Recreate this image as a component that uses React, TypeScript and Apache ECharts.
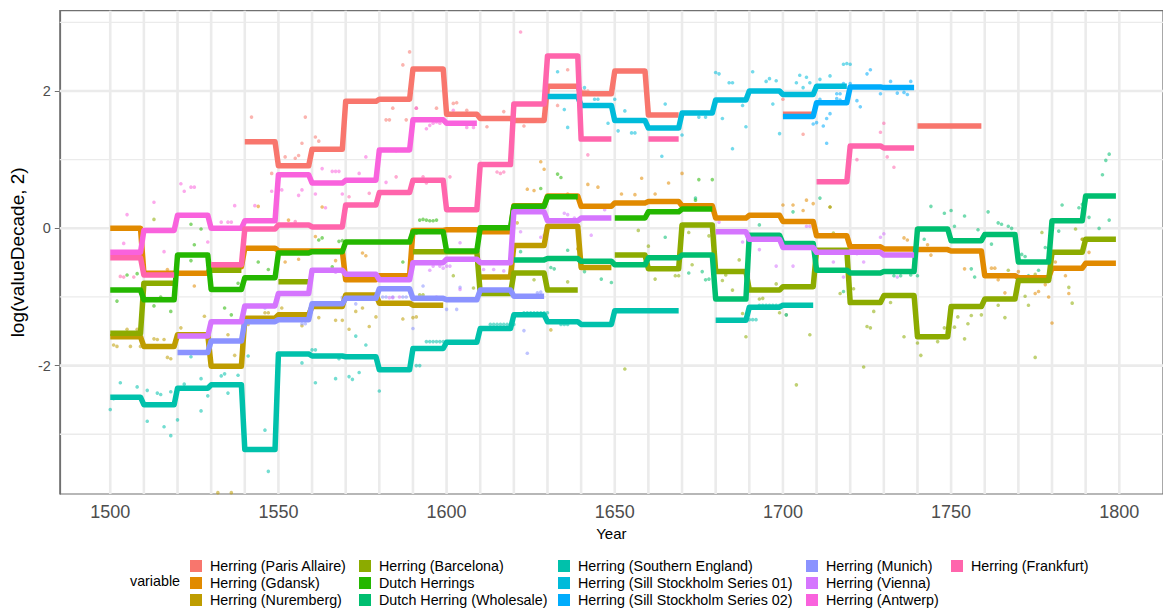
import React, { useEffect, useRef } from "react";
import * as echarts from "echarts";

// ---------- data ----------
const decades = [1500, 1510, 1520, 1530, 1540, 1550, 1560, 1570, 1580, 1590, 1600, 1610, 1620, 1630, 1640, 1650, 1660, 1670, 1680, 1690, 1700, 1710, 1720, 1730, 1740, 1750, 1760, 1770, 1780, 1790];

const seriesNames = [
  "Herring (Paris Allaire)", "Herring (Gdansk)", "Herring (Nuremberg)",
  "Herring (Barcelona)", "Dutch Herrings", "Dutch Herring (Wholesale)",
  "Herring (Southern England)", "Herring (Sill Stockholm Series 01)", "Herring (Sill Stockholm Series 02)",
  "Herring (Munich)", "Herring (Vienna)", "Herring (Antwerp)", "Herring (Frankfurt)",
];
const seriesColors = ["#F8766D", "#E18A00", "#BE9C00", "#8CAB00", "#24B700", "#00BE70", "#00C1AB", "#00BBDA", "#00ACFC", "#8B93FF", "#D575FE", "#F962DD", "#FF65AC"];

const _ = null;
// decade means (log2), one per decade 1500..1790
const parisDecade = [_, _, _, _, 1.26, 0.91, 1.15, 1.85, 1.88, 2.32, 1.66, 1.60, 1.57, 2.07, 1.96, 2.29, 1.65, _, _, _, 1.66, _, _, _, 1.49, 1.49, _, _, _, _];
const gdanskDecade = [0.0, -0.655, -0.655, -0.56, -0.29, -0.33, -0.33, -0.75, -0.69, -0.03, -0.02, -0.05, 0.33, 0.47, 0.32, 0.37, 0.39, 0.33, 0.15, 0.19, 0.10, -0.11, -0.27, -0.30, -0.31, -0.33, -0.69, -0.72, -0.58, -0.51];
const nurembergDecade = [-1.58, -1.72, -1.55, -2.01, -1.31, -1.26, -1.14, -0.97, -1.09, -1.12, _, -0.71, -0.25, 0.03, -0.57, _, _, _, _, _, _, _, _, _, _, _, _, _, _, _];
const barcelonaDecade = [-1.53, -0.80, _, -0.61, _, -0.78, _, _, _, -0.34, -0.34, -0.95, -0.65, -0.90, _, -0.39, -0.59, 0.05, -0.63, -0.90, -0.85, -0.32, -1.08, -0.98, -1.58, -1.14, -1.03, -0.76, -0.35, -0.16];
const dutchDecade = [-0.90, -1.04, -0.39, -0.89, -0.72, -0.36, -0.34, -0.20, -0.20, -0.05, -0.33, 0.01, 0.32, 0.46, _, 0.15, 0.24, 0.28, _, _, _, _, _, _, _, _, _, _, _, _];
const wholesaleDecade = [_, _, _, _, _, _, _, _, _, _, _, _, -0.46, -0.44, -0.48, -0.53, -0.43, -0.39, -1.03, -0.10, -0.22, -0.61, -0.65, -0.63, -0.01, -0.18, -0.09, -0.49, 0.11, 0.47];
const southDecade = [-2.46, -2.57, -2.33, -2.28, -3.22, -1.83, -1.86, -1.87, -2.06, -1.75, -1.66, -1.46, -1.26, -1.36, -1.40, -1.20, -1.20, _, -1.34, -1.15, -1.12, _, _, _, _, _, _, _, _, _];
const sill01Decade = [_, _, _, _, _, _, _, _, _, _, _, _, _, 1.92, 1.79, 1.57, 1.46, 1.68, 1.87, 2.00, 1.95, 2.07, _, _, _, _, _, _, _, _];
const sill02Decade = [_, _, _, _, _, _, _, _, _, _, _, _, _, _, _, _, _, _, _, _, 1.63, 1.83, 2.06, 2.05, _, _, _, _, _, _];
const munichDecade = [_, _, -1.81, -1.64, -1.36, -1.33, -1.10, -1.02, -0.88, -1.02, -1.04, -0.90, -0.99, _, _, _, _, _, _, _, _, _, _, _, _, _, _, _, _, _];
const viennaDecade = [_, _, -1.57, -1.36, -1.13, -0.95, -0.61, -0.67, -0.75, -0.50, -0.45, -0.50, 0.24, 0.11, 0.15, _, _, _, -0.05, -0.16, -0.28, -0.35, -0.35, -0.39, _, _, _, _, _, _];
const antwerpDecade = [-0.35, -0.03, 0.19, 0.0, 0.11, 0.78, 0.66, 0.70, 1.14, 1.58, 1.53, _, _, _, _, _, _, _, _, _, _, _, _, _, _, _, _, _, _, _];
const frankfurtDecade = [-0.43, -0.68, _, -0.53, -0.01, 0.05, 0.02, 0.34, 0.52, 0.70, 0.27, 0.93, 1.81, 2.51, 1.30, _, 1.30, _, _, _, _, 0.68, 1.20, 1.17, _, _, _, _, _, _];

// yearly observations [year, log2 value]
const parisPts = [[1542, 1.62], [1548, 0.80], [1552, 1.04], [1555, 1.02], [1556, 1.06], [1557, 1.24], [1558, 1.62], [1561, 1.33], [1562, 1.27], [1582, 1.58], [1583, 1.58], [1584, 1.75], [1587, 2.38], [1588, 1.58], [1589, 2.57], [1591, 1.75], [1597, 1.75], [1602, 1.82], [1603, 1.83], [1606, 1.72], [1612, 1.48], [1617, 1.70], [1623, 1.49], [1633, 1.79], [1636, 2.31], [1641, 2.0], [1642, 2.0], [1700, 1.88], [1706, 1.37]];
const gdanskPts = [[1517, -0.60], [1525, -0.84], [1544, 0.32], [1552, -0.49], [1553, 0.12], [1556, -0.45], [1561, -0.12], [1563, 0.31], [1567, -0.47], [1569, -0.62], [1575, -0.36], [1576, -0.40], [1624, 0.57], [1626, 0.55], [1628, 0.97], [1629, 0.86], [1636, 0.50], [1642, 0.64], [1645, 0.60], [1652, 0.50], [1656, 0.49], [1658, 0.73], [1662, 0.50], [1666, 0.66], [1670, 0.80], [1700, 0.34], [1703, 0.34], [1706, 0.26], [1707, 0.41], [1709, 0.36], [1714, 0.31], [1736, -0.14], [1737, -0.17], [1743, -0.24], [1744, -0.39], [1754, -0.59], [1762, -0.58], [1763, -0.58], [1764, -0.75], [1766, -0.94], [1770, -0.63], [1775, -0.95], [1776, -0.92], [1778, -0.82], [1779, -1.0], [1780, -1.38], [1781, -0.49], [1784, -0.69], [1785, -0.95], [1789, -0.16], [1791, -0.35]];
const nurembergPts = [[1501, -1.70], [1502, -1.72], [1505, -1.47], [1506, -1.72], [1508, -1.47], [1509, -1.72], [1513, -1.61], [1514, -1.62], [1516, -1.62], [1517, -1.88], [1518, -1.90], [1521, -1.45], [1528, -1.28], [1532, -3.85], [1536, -3.85], [1535, -1.55], [1537, -1.85], [1541, -1.40], [1546, -1.23], [1547, -1.23], [1551, -1.16], [1557, -1.42], [1562, -1.30], [1567, -1.34], [1569, -1.34], [1571, -1.47], [1573, -1.21], [1575, -1.16], [1577, -1.43], [1579, -1.29], [1587, -1.32], [1590, -1.30], [1591, -1.29], [1621, 0.08], [1631, -1.48], [1639, -0.30]];
const barcelonaPts = [[1513, 0.13], [1592, -0.97], [1593, -0.97], [1602, -0.69], [1608, -0.87], [1616, -0.72], [1626, -0.75], [1636, -0.78], [1653, -2.05], [1657, -0.03], [1660, -0.26], [1662, -0.74], [1668, -0.69], [1669, -0.69], [1672, -0.06], [1673, -0.53], [1678, -0.11], [1682, -0.76], [1683, -0.68], [1685, -0.90], [1687, -0.46], [1688, -1.24], [1689, -1.58], [1693, -1.03], [1694, -1.02], [1698, -0.81], [1699, -1.23], [1701, -1.26], [1704, -2.28], [1708, -1.55], [1714, 0.31], [1715, -0.07], [1717, -0.95], [1721, -0.88], [1724, -2.02], [1725, -1.43], [1726, -1.45], [1727, -1.21], [1732, -1.08], [1736, -1.58], [1740, -1.67], [1741, -1.85], [1746, -1.65], [1748, -1.45], [1751, -1.44], [1752, -1.29], [1754, -1.61], [1755, -1.39], [1756, -1.27], [1759, -1.26], [1764, -1.12], [1766, -1.30], [1767, -0.61], [1772, -0.99], [1773, -1.12], [1775, -0.67], [1775, -1.88], [1777, -0.06], [1785, -0.86], [1786, -1.09], [1787, -0.01], [1789, -0.16]];
const dutchPts = [[1502, -1.06], [1505, -0.68], [1508, -0.66], [1513, -1.13], [1515, -1.0], [1518, -1.21], [1524, -0.47], [1524, 0.06], [1525, -0.24], [1527, -0.01], [1534, -1.16], [1536, -1.26], [1538, -0.80], [1544, -0.49], [1547, -0.60], [1562, -0.17], [1563, -0.14], [1566, -0.56], [1568, -0.19], [1569, -0.18], [1587, -0.49], [1591, -0.07], [1592, 0.12], [1593, 0.13], [1594, 0.12], [1595, 0.11], [1596, 0.11], [1597, 0.12], [1628, 0.58], [1633, 0.79], [1634, 0.74], [1674, 0.41], [1675, 0.71], [1679, 0.71]];
const wholesalePts = [[1622, -0.34], [1631, -0.57], [1632, -0.59], [1636, -0.32], [1641, -0.63], [1646, -0.74], [1649, -0.79], [1665, -0.13], [1672, -0.65], [1674, 0.44], [1676, -0.63], [1677, -0.75], [1678, -0.74], [1693, 0.05], [1703, 0.24], [1711, 0.44], [1718, -0.92], [1733, -0.69], [1735, -0.69], [1738, -0.68], [1740, -0.69], [1742, -0.16], [1744, 0.32], [1748, 0.22], [1750, 0.26], [1751, 0.03], [1754, 0.18], [1756, -0.59], [1757, -0.71], [1758, -0.02], [1761, 0.24], [1762, -0.23], [1764, 0.08], [1765, 0.06], [1767, 0.03], [1768, 0.0], [1771, -0.38], [1772, -0.41], [1773, -0.69], [1776, -0.61], [1778, -0.28], [1782, -0.04], [1783, 0.34], [1788, 0.30], [1789, 0.35], [1790, 0.40], [1791, 0.16], [1794, 0.0], [1795, 0.78], [1796, 0.99], [1797, 1.08], [1797, 0.12]];
const southPts = [[1500, -2.64], [1501, -2.48], [1503, -2.25], [1508, -2.31], [1511, -2.36], [1511, -2.81], [1514, -2.40], [1515, -2.42], [1516, -2.89], [1518, -2.38], [1518, -3.02], [1520, -2.79], [1522, -2.27], [1524, -1.87], [1527, -2.19], [1527, -2.66], [1529, -2.44], [1533, -2.15], [1534, -2.12], [1535, -2.40], [1538, -2.14], [1541, -1.86], [1546, -2.94], [1547, -3.54], [1557, -1.96], [1560, -1.77], [1561, -1.77], [1561, -2.25], [1567, -2.19], [1568, -1.90], [1571, -2.16], [1572, -2.20], [1573, -1.57], [1574, -2.10], [1576, -1.70], [1580, -2.37], [1583, -2.06], [1584, -2.06], [1585, -2.06], [1586, -2.06], [1587, -2.06], [1588, -2.06], [1591, -2.0], [1592, -2.0], [1594, -1.65], [1595, -1.65], [1596, -1.65], [1597, -1.65], [1598, -1.65], [1599, -1.65], [1613, -1.40], [1614, -1.40], [1615, -1.40], [1616, -1.40], [1617, -1.40], [1618, -1.40], [1619, -1.40], [1620, -1.40], [1623, -1.23], [1624, -1.23], [1625, -1.23], [1626, -1.23], [1627, -1.23], [1628, -1.23], [1629, -1.23], [1630, -1.23], [1634, -1.40], [1635, -1.40], [1636, -1.40], [1690, -1.33], [1691, -1.33], [1692, -1.33], [1693, -1.12], [1694, -1.12], [1695, -1.12], [1696, -1.12], [1697, -1.12], [1698, -1.12], [1699, -1.12], [1701, -1.26]];
const sill01Pts = [[1633, 2.28], [1635, 1.73], [1636, 1.47], [1641, 2.05], [1644, 1.88], [1645, 1.88], [1648, 1.53], [1650, 1.88], [1651, 1.42], [1653, 1.71], [1655, 1.39], [1656, 1.39], [1664, 1.05], [1665, 1.81], [1670, 1.36], [1675, 1.62], [1677, 1.62], [1680, 2.27], [1681, 2.25], [1682, 1.60], [1684, 2.12], [1685, 2.12], [1685, 1.16], [1688, 1.79], [1689, 1.48], [1691, 2.28], [1695, 2.14], [1696, 2.18], [1697, 1.81], [1698, 2.15], [1699, 1.38], [1705, 2.23], [1704, 2.12], [1707, 2.20], [1706, 2.05], [1708, 2.12], [1711, 2.17], [1714, 2.22], [1718, 2.39], [1719, 2.40], [1720, 2.39]];
const sill02Pts = [[1709, 1.52], [1710, 1.54], [1711, 1.88], [1712, 1.49], [1713, 1.60], [1713, 1.24], [1714, 1.67], [1716, 1.96], [1717, 1.96], [1716, 1.89], [1717, 1.87], [1718, 2.11], [1720, 2.11], [1722, 1.86], [1723, 1.77], [1725, 2.25], [1726, 2.31], [1729, 1.96], [1732, 2.14], [1734, 1.97], [1736, 1.98], [1737, 1.95], [1738, 2.14]];
const munichPts = [[1546, -1.16], [1557, -1.39], [1558, -1.39], [1569, -1.01], [1570, -1.01], [1573, -1.10], [1574, -0.68], [1575, -0.70], [1576, -0.70], [1581, -1.0], [1582, -1.0], [1584, -1.0], [1587, -1.0], [1588, -1.0], [1590, -1.46], [1593, -0.84], [1600, -1.18], [1603, -1.18], [1604, -0.86], [1623, -1.49], [1624, -1.82], [1627, -0.94], [1628, -0.93]];
const viennaPts = [[1567, -0.64], [1568, -0.62], [1571, -1.0], [1577, -0.75], [1583, -1.01], [1584, -1.01], [1586, -1.0], [1595, -0.61], [1596, -0.55], [1597, -1.0], [1598, -0.55], [1599, -0.58], [1600, -0.55], [1601, -0.55], [1604, -0.21], [1604, -0.89], [1611, -0.60], [1614, -0.60], [1617, -0.62], [1622, -0.05], [1628, -0.13], [1629, -0.10], [1635, 0.22], [1636, 0.20], [1638, 0.15], [1643, -0.10], [1647, 0.27], [1681, 0.09], [1688, -0.20], [1693, -0.31], [1698, -0.55], [1703, -0.55], [1707, 0.03], [1708, 0.03], [1713, -0.34], [1714, -0.34], [1715, -0.49], [1718, -0.71], [1722, -0.37], [1724, -0.49], [1729, -0.13], [1730, -0.08], [1734, -0.71]];
const antwerpPts = [[1504, -0.22], [1505, 0.20], [1513, 0.38], [1516, -0.34], [1521, 0.65], [1522, 0.54], [1524, 0.60], [1525, 0.60], [1529, -0.20], [1533, 0.09], [1535, 0.09], [1536, 0.09], [1537, 0.33], [1543, 0.33], [1548, 0.54], [1551, 0.56], [1556, 0.48], [1557, 0.56], [1561, 0.50], [1563, 0.87], [1564, 0.30], [1566, 0.83], [1567, 0.83], [1568, 0.83], [1569, 0.50], [1574, 0.80], [1576, 1.04], [1582, 0.67], [1585, 1.13], [1591, 1.75], [1594, 1.45], [1595, 1.50], [1596, 1.53], [1597, 1.55], [1598, 1.53], [1602, 1.72], [1606, 1.47], [1608, 1.47]];
const frankfurtPts = [[1503, -0.70], [1504, -0.71], [1507, -0.71], [1555, 0.10], [1571, 0.46], [1577, 0.51], [1585, 0.75], [1593, 0.75], [1594, 0.66], [1601, 0.75], [1615, 0.82], [1616, 0.80], [1617, 0.82], [1622, 2.86], [1642, 1.07], [1722, 1.0], [1729, 1.40], [1730, 1.53], [1731, 1.04], [1733, 0.89]];

const decadeValues = [parisDecade, gdanskDecade, nurembergDecade, barcelonaDecade, dutchDecade, wholesaleDecade, southDecade, sill01Decade, sill02Decade, munichDecade, viennaDecade, antwerpDecade, frankfurtDecade];
const yearlyPoints = [parisPts, gdanskPts, nurembergPts, barcelonaPts, dutchPts, wholesalePts, southPts, sill01Pts, sill02Pts, munichPts, viennaPts, antwerpPts, frankfurtPts];

const xGridTicks = [1500, 1510, 1520, 1530, 1540, 1550, 1560, 1570, 1580, 1590, 1600, 1610, 1620, 1630, 1640, 1650, 1660, 1670, 1680, 1690, 1700, 1710, 1720, 1730, 1740, 1750, 1760, 1770, 1780, 1790, 1800];
const xTickLabels = [1500, 1550, 1600, 1650, 1700, 1750, 1800];
const yMajorTicks = [-2, 0, 2];
const yMinorTicks = [-3, -1, 1, 3];

const X_MIN = 1485;
const X_MAX = 1813;
const Y_MIN = -3.87;
const Y_MAX = 3.17;

const FONT = "'Liberation Sans', Arial, sans-serif";

// legend layout: 5 columns x 3 rows, column-major
const legendColLeft = [190, 359, 558, 806, 951];
const legendRowTop = [559, 576, 593];

function stepLine(vals: (number | null)[]) {
  const out: any[] = [];
  vals.forEach((v, i) => {
    const d = decades[i];
    if (v === null) out.push([d + 5, "-"]);
    else {
      out.push([d, v]);
      out.push([d + 9, v]);
    }
  });
  return out;
}

function gridSeries(values: number[], vertical: boolean, width: number) {
  const data: any[] = [];
  values.forEach((v) => {
    if (vertical) {
      data.push([v, Y_MIN], [v, Y_MAX], [v, "-"]);
    } else {
      data.push([X_MIN, v], [X_MAX, v], [X_MAX, "-"]);
    }
  });
  return {
    type: "line",
    data,
    showSymbol: false,
    symbol: "none",
    silent: true,
    connectNulls: false,
    z: 0,
    lineStyle: { color: "#EBEBEB", width, cap: "butt" },
    legendHoverLink: false,
  };
}

export default function App() {
  const ref = useRef<HTMLDivElement>(null);
  useEffect(() => {
    if (!ref.current) return;
    const chart = echarts.init(ref.current, undefined, { renderer: "svg" });

    const series: any[] = [];
    // step lines first (so legend picks their solid colour); z keeps them above points
    seriesNames.forEach((name, k) => {
      series.push({
        type: "line",
        name,
        data: stepLine(decadeValues[k]),
        showSymbol: false,
        symbol: "none",
        connectNulls: false,
        z: 3,
        silent: true,
        color: seriesColors[k],
        itemStyle: { color: seriesColors[k] },
        lineStyle: { color: seriesColors[k], width: 5.5, cap: "butt", join: "round" },
      });
    });
    seriesNames.forEach((name, k) => {
      series.push({
        type: "scatter",
        name,
        data: yearlyPoints[k],
        symbolSize: 3.6,
        z: 2,
        silent: true,
        itemStyle: { color: seriesColors[k], opacity: 0.55 },
      });
    });
    series.push(gridSeries(xGridTicks, true, 2.6));
    series.push(gridSeries(yMajorTicks, false, 2.6));
    series.push(gridSeries(yMinorTicks, false, 1.3));

    const legends: any[] = [];
    seriesNames.forEach((name, k) => {
      const col = Math.floor(k / 3);
      const row = k % 3;
      legends.push({
        orient: "horizontal",
        left: legendColLeft[col],
        top: legendRowTop[row],
        padding: 0,
        itemWidth: 12,
        itemHeight: 12,
        icon: "rect",
        selectedMode: false,
        data: [name],
        itemStyle: { color: seriesColors[k], opacity: 1 },
        textStyle: { fontSize: 14.3, color: "#000", fontFamily: FONT, padding: [0, 0, 0, 3] },
      });
    });

    chart.setOption({
      animation: false,
      backgroundColor: "#ffffff",
      textStyle: { fontFamily: FONT },
      grid: {
        left: 53,
        right: 0,
        top: 10.7,
        bottom: 114,
        show: true,
        borderColor: "#707070",
        borderWidth: 1.2,
        backgroundColor: "transparent",
      },
      xAxis: {
        type: "value",
        min: X_MIN,
        max: X_MAX,
        axisLine: { show: true, lineStyle: { color: "#707070", width: 1.2 } },
        axisTick: { show: true, customValues: xGridTicks, length: 5, lineStyle: { color: "#707070", width: 1 } },
        axisLabel: {
          customValues: xTickLabels,
          fontSize: 18,
          color: "#4D4D4D",
          margin: 9,
          fontFamily: FONT,
          formatter: (v: number) => String(v),
        },
        splitLine: { show: false },
        name: "Year",
        nameLocation: "middle",
        nameGap: 31,
        nameTextStyle: { fontSize: 15, color: "#000", fontFamily: FONT },
      },
      yAxis: {
        type: "value",
        min: Y_MIN,
        max: Y_MAX,
        axisLine: { show: true, lineStyle: { color: "#707070", width: 1.2 } },
        axisTick: { show: true, customValues: yMajorTicks, length: 5, lineStyle: { color: "#707070", width: 1 } },
        axisLabel: {
          customValues: yMajorTicks,
          fontSize: 14.5,
          color: "#4D4D4D",
          margin: 9,
          fontFamily: FONT,
          formatter: (v: number) => String(v),
        },
        splitLine: { show: false },
        name: "log(valueDecade, 2)",
        nameLocation: "middle",
        nameRotate: 90,
        nameGap: 25,
        nameTextStyle: { fontSize: 19, color: "#000", fontFamily: FONT },
      },
      legend: legends,
      graphic: [
        {
          type: "text",
          left: 130,
          top: 574,
          style: { text: "variable", fontSize: 14.3, fill: "#000", fontFamily: FONT },
        },
      ],
      series,
    });

    return () => chart.dispose();
  }, []);

  return (
    <div
      ref={ref}
      style={{ position: "fixed", left: 0, top: 0, width: 1163, height: 608, background: "#fff" }}
    />
  );
}
